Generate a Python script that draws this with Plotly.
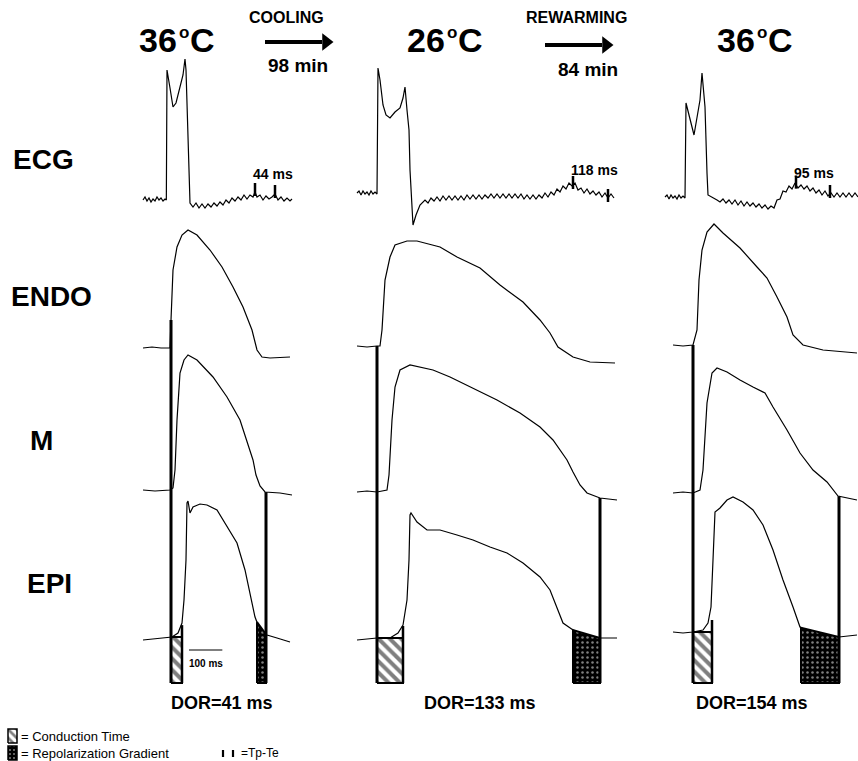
import numpy as np
import plotly.graph_objects as go

# ---------------- text content ----------------
TEMP_VALUES = ["36", "26", "36"]
TEMP_DEGREE = "o"
TEMP_UNIT = "C"
PHASES = ["COOLING", "REWARMING"]
PHASE_DURATIONS = ["98 min", "84 min"]
ROW_LABELS = ["ECG", "ENDO", "M", "EPI"]
TPTE_LABELS = ["44 ms", "118 ms", "95 ms"]
DOR_LABELS = ["DOR=41 ms", "DOR=133 ms", "DOR=154 ms"]
SCALE_LABEL = "100 ms"
SCALE_BAR_MS = 100
LEGEND_TEXTS = ["= Conduction Time", "= Repolarization Gradient", "=Tp-Te"]

# ---------------- data (time in ms, amplitude in a.u.) ----------------
# ECG
ECG1_T = [0, 6, 12, 18, 24, 30, 36, 42, 48, 54, 60, 66, 70,
          72, 81, 90, 99, 111, 120, 126, 129,
          141, 150, 159, 168, 177, 186, 195, 204, 213, 222, 231, 240, 249, 258, 267, 276, 285, 294,
          303, 312, 321, 330, 336, 342, 351, 360, 369, 378, 387, 396, 405, 414, 423, 432, 441, 447]
ECG1_V = [0, 3, -1, 2, -2, 1, -1, 3, 0, 2, -1, 1, 0,
          130, 112, 93, 97, 112, 125, 141, 130,
          -3, -7, -3, -8, -4, -8, -4, -7, -3, -6, -2, -5, 0, -3, 2, -1, 3, 0,
          5, 1, 5, 3, 8, 3, 5, 0, 4, 1, 3, 6, 0, 3, -1, 2, -1, 1]
ECG2_T = [0, 6, 12, 18, 24, 30, 36, 42, 48, 54, 60,
          63, 69, 78, 87, 99, 114, 129, 138, 144, 150, 156, 159, 168, 177, 189,
          204, 213, 222, 231, 240, 249, 258, 267, 276, 285, 294, 303, 312, 321, 330, 339, 348, 357,
          366, 375, 384, 393, 402, 411, 420, 429, 438, 447, 456, 465, 474, 483, 492, 501, 510, 519,
          528, 537, 546, 555, 564, 573, 582, 591, 600, 609, 618, 627, 636, 645, 654, 663, 672, 681,
          690, 699, 708, 717, 726, 735, 744, 753, 762, 771]
ECG2_V = [7, 9, 5, 9, 6, 8, 5, 9, 6, 8, 6,
          132, 120, 95, 85, 82, 88, 92, 102, 113, 90, 70, 30, -25, -15, -5,
          0, -3, 2, -1, 3, -1, 4, 0, 4, 0, 4, 0, 4, 0, 5, 1, 5, 1,
          5, 1, 5, 2, 6, 2, 6, 2, 6, 2, 6, 2, 6, 2, 6, 1, 5, 1,
          5, 1, 5, 2, 7, 3, 8, 5, 11, 8, 14, 11, 17, 14, 17, 10, 12, 7,
          11, 6, 9, 5, 8, 3, 7, 2, 6, 2]
ECG3_T = [0, 6, 12, 18, 24, 30, 36, 42, 48, 54, 60,
          63, 87, 96, 105, 111, 120, 126, 129,
          156, 165, 174, 183, 192, 201, 210, 219, 228, 237, 246, 255, 264, 273, 282, 291, 300, 309,
          318, 327, 336, 345, 354, 363, 372, 381, 390, 399, 408, 417, 426, 435, 444, 453, 462, 471,
          480, 489, 498, 507, 516, 525, 534, 543, 552, 561, 570, 579]
ECG3_V = [3, 5, 1, 5, 2, 4, 1, 5, 2, 4, 2,
          97, 65, 83, 100, 127, 93, 27, 5,
          0, -2, 1, -3, 0, -4, 0, -5, -1, -6, -2, -6, -3, -7, -4, -8, -5, -9,
          -6, -8, 0, 1, 9, 8, 14, 11, 17, 12, 15, 11, 14, 9, 12, 7, 10, 5,
          9, 4, 7, 3, 7, 3, 7, 3, 7, 3, 7, 3]

# Endocardial action potentials
ENDO1_T = [0, 27, 54, 81, 84, 90, 102, 117, 135, 162, 201, 237, 270, 300, 327, 342, 357, 381, 441]
ENDO1_V = [2, 3, 2, 2, 30, 80, 103, 115, 120, 115, 100, 83, 63, 43, 20, 0, -7, -8, -7]
ENDO2_T = [0, 30, 60, 69, 75, 84, 99, 114, 150, 180, 249, 300, 369, 429, 498, 549, 579, 603, 648, 699, 774]
ENDO2_V = [4, 3, 4, 4, 20, 70, 93, 105, 109, 109, 103, 93, 82, 65, 48, 30, 17, 3, -7, -12, -13]
ENDO3_T = [24, 54, 84, 96, 102, 111, 126, 147, 174, 225, 276, 306, 336, 366, 384, 414, 474, 576]
ENDO3_V = [5, 4, 5, 20, 70, 100, 118, 126, 117, 102, 83, 72, 53, 33, 15, 5, 0, -3]

# Midmyocardial (M cell) action potentials
M1_T = [0, 36, 81, 90, 96, 102, 111, 123, 135, 162, 210, 252, 291, 330, 339, 351, 366, 411, 447]
M1_V = [2, 1, 2, 4, 22, 72, 119, 132, 137, 132, 115, 95, 72, 32, 17, 6, 0, -1, -3]
M2_T = [0, 30, 60, 90, 96, 99, 105, 114, 129, 159, 228, 279, 348, 420, 489, 549, 588, 630, 648, 669,
        690, 729, 780]
M2_V = [0, 1, 0, 2, 17, 32, 72, 105, 122, 127, 122, 115, 104, 92, 79, 65, 52, 32, 20, 7,
        -1, -6, -8]
M3_T = [24, 54, 84, 105, 114, 126, 141, 156, 186, 225, 264, 300, 324, 366, 405, 444, 486, 519, 576]
M3_V = [-1, 0, -1, 2, 22, 89, 119, 124, 120, 112, 105, 99, 85, 62, 39, 22, 10, -4, -8]

# Epicardial action potentials
EPI1_T = [0, 60, 87, 105, 117, 123, 129, 132, 135, 141, 150, 171, 192, 222, 252, 282, 306, 321, 336,
          351, 372, 402, 441]
EPI1_V = [0, 2, 3, 7, 17, 40, 80, 137, 139, 127, 133, 136, 135, 130, 113, 97, 70, 47, 23,
          10, 5, 2, -2]
EPI2_T = [0, 60, 99, 123, 138, 150, 156, 159, 162, 180, 210, 249, 300, 348, 399, 450, 498, 549, 579,
          600, 618, 648, 690, 729, 780]
EPI2_V = [0, 2, 2, 7, 15, 40, 80, 125, 127, 118, 110, 110, 105, 100, 93, 87, 77, 63, 50,
          33, 17, 10, 5, 2, 2]
EPI3_T = [24, 54, 84, 114, 129, 138, 144, 150, 165, 186, 204, 234, 264, 294, 324, 354, 384, 405, 426,
          474, 522, 576]
EPI3_V = [8, 7, 8, 10, 17, 33, 80, 128, 132, 140, 143, 138, 130, 115, 90, 60, 33, 13, 8,
          5, 3, 5]

# Event times (ms from start of each recording)
ENDO_ACT_T = [84, 60, 84]     # endocardial activation
EPI_ACT_T = [117, 138, 141]   # epicardial activation
EPI_REP_T = [342, 648, 408]   # end of epicardial repolarization
M_REP_T = [369, 729, 522]     # end of M-cell repolarization
TP_T = [336, 648, 393]        # T peak
TE_T = [396, 753, 495]        # T end

ECG_T = [ECG1_T, ECG2_T, ECG3_T]
ECG_V = [ECG1_V, ECG2_V, ECG3_V]
ENDO_T = [ENDO1_T, ENDO2_T, ENDO3_T]
ENDO_V = [ENDO1_V, ENDO2_V, ENDO3_V]
M_T = [M1_T, M2_T, M3_T]
M_V = [M1_V, M2_V, M3_V]
EPI_T = [EPI1_T, EPI2_T, EPI3_T]
EPI_V = [EPI1_V, EPI2_V, EPI3_V]

# ---------------- layout constants ----------------
W, H = 858, 761
MS_PER_PX = 3
COL_START_PX = [143, 357, 665]
ROW_BASE_PX = {"ECG": 200, "ENDO": 350, "M": 492, "EPI": 640}
BOX_BOTTOM_PX = 683
FONT = "Liberation Sans, Arial, sans-serif"
TRACE_W = 1.2


def X(c, t):
    return COL_START_PX[c] * MS_PER_PX + np.asarray(t, dtype=float)


def Y(row, v):
    return ROW_BASE_PX[row] - np.asarray(v, dtype=float)


def level(row, ts, vs, t):
    return float(Y(row, np.interp(t, ts, vs)))


fig = go.Figure()


def line(xs, ys, width=TRACE_W, **kw):
    fig.add_trace(go.Scatter(x=list(xs), y=list(ys), mode="lines",
                             line=dict(color="black", width=width),
                             hoverinfo="skip", showlegend=False, **kw))


HATCH = dict(shape="\\", fgcolor="black", bgcolor="white", size=8, solidity=0.5)
DOTS = dict(shape=".", fgcolor="white", bgcolor="black", size=5, solidity=0.2)

for c in range(3):
    # traces
    line(X(c, ECG_T[c]), Y("ECG", ECG_V[c]))
    line(X(c, ENDO_T[c]), Y("ENDO", ENDO_V[c]))
    line(X(c, M_T[c]), Y("M", M_V[c]))
    line(X(c, EPI_T[c]), Y("EPI", EPI_V[c]))

    xa = float(X(c, ENDO_ACT_T[c]))
    xe = float(X(c, EPI_ACT_T[c]))
    xr = float(X(c, EPI_REP_T[c]))
    xm = float(X(c, M_REP_T[c]))

    # conduction time (hatched)
    top_l = level("EPI", EPI_T[c], EPI_V[c], ENDO_ACT_T[c])
    fig.add_trace(go.Scatter(
        x=[xa, xa, xe, xe, xa], y=[BOX_BOTTOM_PX, top_l, top_l, BOX_BOTTOM_PX, BOX_BOTTOM_PX],
        mode="lines", fill="toself", fillcolor="white", fillpattern=HATCH,
        line=dict(color="black", width=2), hoverinfo="skip", showlegend=False))
    line([xe, xe], [BOX_BOTTOM_PX, top_l - 12], width=2.5)

    # repolarization gradient (dotted)
    top_r1 = level("EPI", EPI_T[c], EPI_V[c], EPI_REP_T[c])
    top_r2 = level("EPI", EPI_T[c], EPI_V[c], M_REP_T[c])
    fig.add_trace(go.Scatter(
        x=[xr, xr, xm, xm, xr], y=[BOX_BOTTOM_PX, top_r1, top_r2, BOX_BOTTOM_PX, BOX_BOTTOM_PX],
        mode="lines", fill="toself", fillcolor="black", fillpattern=DOTS,
        line=dict(color="black", width=2), hoverinfo="skip", showlegend=False))

    # activation / repolarization lines
    line([xa, xa], [level("ENDO", ENDO_T[c], ENDO_V[c], ENDO_ACT_T[c]), BOX_BOTTOM_PX], width=3)
    line([xm, xm], [level("M", M_T[c], M_V[c], M_REP_T[c]), BOX_BOTTOM_PX], width=3)

    # Tp-Te markers
    for t in (TP_T[c], TE_T[c]):
        yl = level("ECG", ECG_T[c], ECG_V[c], t)
        line([float(X(c, t))] * 2, [yl - 9, yl + 4], width=2.5)

# scale bar in first column
sb0 = 138
line([float(X(0, sb0)), float(X(0, sb0 + SCALE_BAR_MS))], [650, 650], width=1.2)

# arrows between conditions (shaft + head)
for x0, x1, ya in [(265, 322, 42), (545, 602, 45)]:
    line([x0 * MS_PER_PX, x1 * MS_PER_PX], [ya, ya], width=4)
    fig.add_trace(go.Scatter(x=[(x1 + 4) * MS_PER_PX], y=[ya], mode="markers",
                             marker=dict(symbol="triangle-right", size=15, color="black"),
                             hoverinfo="skip", showlegend=False))

# legend icons
LEG_X0, LEG_X1 = 8 * MS_PER_PX, 17 * MS_PER_PX
fig.add_trace(go.Scatter(
    x=[LEG_X0, LEG_X0, LEG_X1, LEG_X1, LEG_X0], y=[743, 729, 729, 743, 743],
    mode="lines", fill="toself", fillcolor="white",
    fillpattern=dict(shape="\\", fgcolor="black", bgcolor="white", size=6, solidity=0.45),
    line=dict(color="black", width=1.5), hoverinfo="skip", showlegend=False))
fig.add_trace(go.Scatter(
    x=[LEG_X0, LEG_X0, LEG_X1, LEG_X1, LEG_X0], y=[760, 746, 746, 760, 760],
    mode="lines", fill="toself", fillcolor="black",
    fillpattern=dict(shape=".", fgcolor="white", bgcolor="black", size=4, solidity=0.2),
    line=dict(color="black", width=1.5), hoverinfo="skip", showlegend=False))
line([223 * MS_PER_PX] * 2, [750, 757], width=2.2)
line([233 * MS_PER_PX] * 2, [750, 757], width=2.2)

# ---------------- annotations ----------------
ann = []


def text(px, py, s, size, bold=True, xanchor="center", family=FONT):
    ann.append(dict(x=px / W, y=1 - py / H, xref="paper", yref="paper",
                    text=(f"<b>{s}</b>" if bold else s),
                    showarrow=False, xanchor=xanchor, yanchor="middle",
                    font=dict(family=family, size=size, color="black")))


for cx, s in zip([177, 445, 755], TEMP_VALUES):
    text(cx + 2, 40, s, 34, xanchor="right")
    text(cx + 7, 32, TEMP_DEGREE, 17)
    text(cx + 11, 40, TEMP_UNIT, 34, xanchor="left")

for cx, s, d, dy in zip([286, 576], PHASES, PHASE_DURATIONS, [66, 70]):
    text(cx, 18, s, 16)
    text(cx + 12, dy, d, 19)

for (lx, ly), s in zip([(11, 160), (9, 296), (28, 440), (25, 583)], ROW_LABELS):
    text(lx, ly, s, 28, xanchor="left")

for c, (s, ly) in enumerate(zip(TPTE_LABELS, [174, 170, 173])):
    px = float(X(c, TP_T[c])) / MS_PER_PX - 4
    text(px, ly, s, 14, xanchor="left")

for cx, s in zip([222, 480, 752], DOR_LABELS):
    text(cx, 703, s, 18)

text(206, 663, SCALE_LABEL, 10)
text(19, 736, LEGEND_TEXTS[0], 13, bold=False, xanchor="left")
text(19, 753, LEGEND_TEXTS[1], 13, bold=False, xanchor="left")
text(239, 753, LEGEND_TEXTS[2], 12, bold=False, xanchor="left")

fig.update_layout(
    width=W, height=H, margin=dict(l=0, r=0, t=0, b=0),
    paper_bgcolor="white", plot_bgcolor="white",
    xaxis=dict(range=[0, W * MS_PER_PX], visible=False, fixedrange=True),
    yaxis=dict(range=[H, 0], visible=False, fixedrange=True),
    annotations=ann, showlegend=False,
)

fig.write_html("out.html")
